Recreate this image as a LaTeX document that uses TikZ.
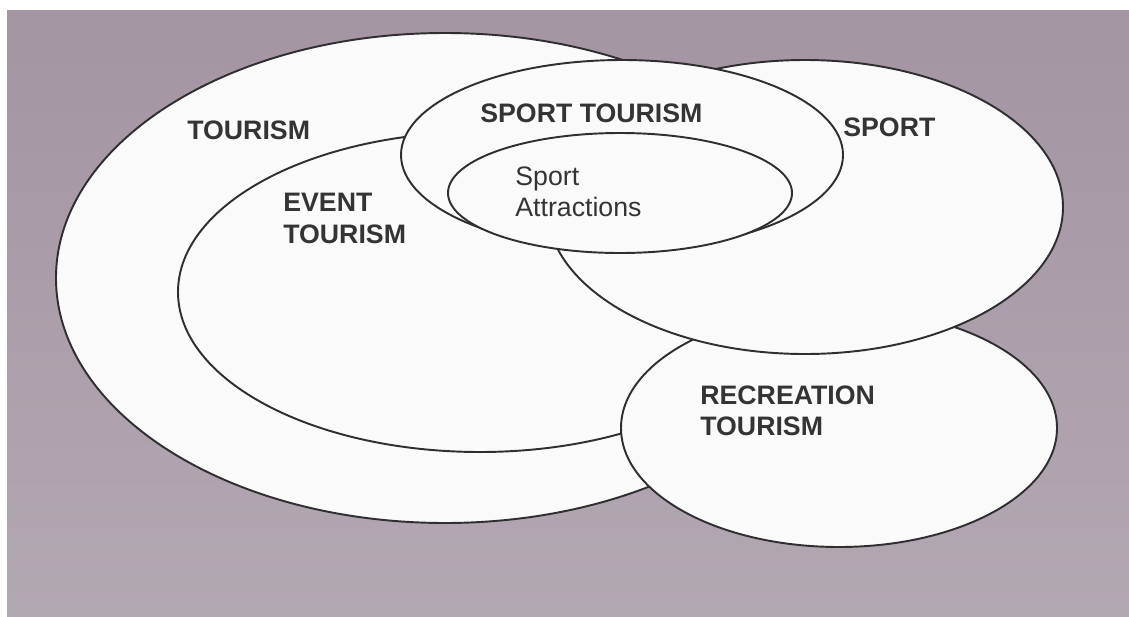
\documentclass[tikz,border=0pt]{standalone}
\usepackage{fontspec}
\setmainfont{Liberation Sans}
\usepackage{tikz}
\definecolor{paperTop}{RGB}{163,149,162}
\definecolor{paperBottom}{RGB}{178,168,178}
\definecolor{ink}{RGB}{52,52,54}
\tikzset{zone/.style={draw=ink!90!black, line width=1.1pt, fill=white!98!black},
  tag/.style={inner sep=0pt, anchor=north west, align=left, text=ink,
    font=\fontsize{15.2}{17.9}\selectfont\bfseries},
  plaintag/.style={tag, font=\fontsize{15.2}{17.9}\selectfont}}

\begin{document}
\begin{tikzpicture}[x=0.02cm, y=-0.02cm]
    \useasboundingbox (0,0) rectangle (1129,616);
    \fill [white] (0,0) rectangle (1129,616);
    \shade [top color=paperTop, bottom color=paperBottom] (7,10) rectangle (1129,616);
    % back to front
    \draw [zone] (445,278) ellipse [x radius=389, y radius=245];
    \draw [zone] (480,292) ellipse [x radius=302, y radius=160];
    \draw [zone] (839,428) ellipse [x radius=218, y radius=119];
    \draw [zone] (805,207) ellipse [x radius=258, y radius=147];
    \draw [zone] (622,155) ellipse [x radius=221, y radius=95];
    \draw [zone] (620,193) ellipse [x radius=172, y radius=60];
    \node [tag] (tourism) at (187,120) {TOURISM};
    \node [tag] (event) at (283,193) {EVENT\\TOURISM};
    \node [tag] (sporttourism) at (480,103) {SPORT TOURISM};
    \node [plaintag] (attractions) at (515,166) {Sport\\Attractions};
    \node [tag] (sport) at (843,117) {SPORT};
    \node [tag] (recreation) at (700,385) {RECREATION\\TOURISM};
  \end{tikzpicture}
\end{document}
